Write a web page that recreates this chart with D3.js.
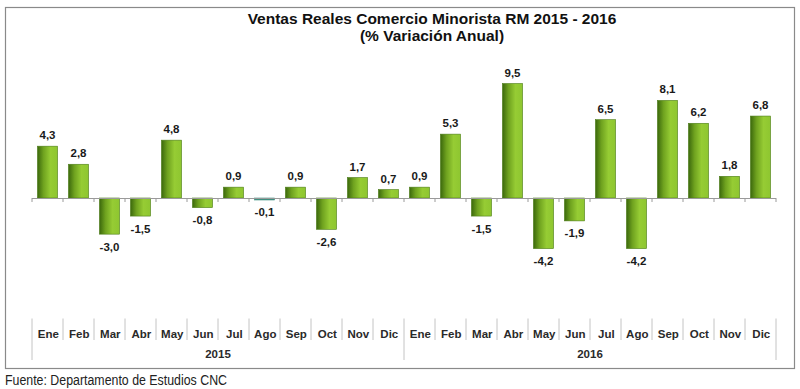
<!DOCTYPE html>
<html>
<head>
<meta charset="utf-8">
<script src="https://cdn.jsdelivr.net/npm/d3@7"></script>
<style>
	body { margin: 0; background: #fff; }
	svg { display: block; font-family: 'Liberation Sans', Arial, sans-serif; }
</style>
</head>
<body>
<div id="chart"></div>
<script>
// data
const months = [ 'Ene', 'Feb', 'Mar', 'Abr', 'May', 'Jun', 'Jul', 'Ago', 'Sep', 'Oct', 'Nov', 'Dic' ];
const years = [ '2015', '2016' ];
const values2015 = [ 4.3, 2.8, -3.0, -1.5, 4.8, -0.8, 0.9, -0.1, 0.9, -2.6, 1.7, 0.7 ];
const values2016 = [ 0.9, 5.3, -1.5, 9.5, -4.2, -1.9, 6.5, -4.2, 8.1, 6.2, 1.8, 6.8 ];

const data = [];
years.forEach(function(yr, j) {
	const vals = j === 0 ? values2015 : values2016;
	months.forEach(function(m, i) {
		data.push({ key: yr + '-' + m, month: m, year: yr, value: vals[i] });
	});
});

const width = 800,
	height = 389;

const svg = d3.select('#chart').append('svg').attr('width', width).attr('height', height);

// frame
svg
	.append('rect')
	.attr('x', 5.5)
	.attr('y', 7.5)
	.attr('width', 789)
	.attr('height', 361)
	.attr('fill', '#fff')
	.attr('stroke', '#8a8a8a')
	.attr('stroke-width', 1.2);

const x = d3.scaleBand().domain(data.map((d) => d.key)).range([ 32, 776 ]).paddingInner(0.35).paddingOuter(0.175);
const y = d3.scaleLinear().domain([ -10, 10 ]).range([ 318.5, 77.5 ]);

const step = x.step();
const x0 = 32;

// gradient for bars
const grad = svg
	.append('defs')
	.append('linearGradient')
	.attr('id', 'barGrad')
	.attr('x1', '0%')
	.attr('x2', '100%')
	.attr('y1', '0%')
	.attr('y2', '0%');
grad.append('stop').attr('offset', '0%').attr('stop-color', '#3b680c');
grad.append('stop').attr('offset', '30%').attr('stop-color', '#6fa21f');
grad.append('stop').attr('offset', '65%').attr('stop-color', '#96cc34');
grad.append('stop').attr('offset', '100%').attr('stop-color', '#8ec630');

// bars
svg
	.selectAll('rect.bar')
	.data(data)
	.enter()
	.append('rect')
	.attr('class', 'bar')
	.attr('x', (d) => x(d.key))
	.attr('width', x.bandwidth())
	.attr('y', (d) => Math.min(y(d.value), y(0)))
	.attr('height', (d) => Math.max(Math.abs(y(d.value) - y(0)), 2))
	.attr('fill', (d) => (Math.abs(d.value) < 0.2 ? '#3f8f80' : 'url(#barGrad)'))
	.attr('stroke', (d) => (Math.abs(d.value) < 0.2 ? '#3f8f80' : '#4d7d18'))
	.attr('stroke-width', 0.6);

// zero line with ticks
const zero = y(0);
svg
	.append('line')
	.attr('x1', x0)
	.attr('x2', x0 + step * data.length)
	.attr('y1', zero + 0.5)
	.attr('y2', zero + 0.5)
	.attr('stroke', '#9a9a9a')
	.attr('stroke-width', 1);

svg
	.selectAll('line.ztick')
	.data(d3.range(data.length + 1))
	.enter()
	.append('line')
	.attr('class', 'ztick')
	.attr('x1', (i) => x0 + i * step)
	.attr('x2', (i) => x0 + i * step)
	.attr('y1', zero)
	.attr('y2', zero + 4)
	.attr('stroke', '#9a9a9a');

// value labels
const fmt = (v) => d3.format('.1f')(v).replace('.', ',').replace('−', '-');
svg
	.selectAll('text.val')
	.data(data)
	.enter()
	.append('text')
	.attr('class', 'val')
	.attr('x', (d) => x(d.key) + x.bandwidth() / 2)
	.attr('y', (d) => (d.value >= 0 ? y(d.value) - 7 : Math.max(y(d.value), zero + 1.5) + 16.5))
	.attr('text-anchor', 'middle')
	.attr('font-size', '11.5px')
	.attr('font-weight', 'bold')
	.attr('fill', '#1a1a1a')
	.text((d) => fmt(d.value));

// category axis at bottom
const axisTop = 318.5;
svg
	.selectAll('line.msep')
	.data(d3.range(data.length + 1))
	.enter()
	.append('line')
	.attr('class', 'msep')
	.attr('x1', (i) => x0 + i * step)
	.attr('x2', (i) => x0 + i * step)
	.attr('y1', axisTop)
	.attr('y2', (i) => (i % 12 === 0 ? 360 : 340))
	.attr('stroke', '#c4c4c4')
	.attr('stroke-width', 1);

svg
	.selectAll('text.month')
	.data(data)
	.enter()
	.append('text')
	.attr('class', 'month')
	.attr('x', (d) => x(d.key) + x.bandwidth() / 2 + 0.8)
	.attr('y', 337.5)
	.attr('text-anchor', 'middle')
	.attr('font-size', '11.5px')
	.attr('font-weight', 'bold')
	.attr('fill', '#2a2a2a')
	.text((d) => d.month);

svg
	.selectAll('text.year')
	.data(years)
	.enter()
	.append('text')
	.attr('class', 'year')
	.attr('x', (d, j) => x0 + step * 12 * (j + 0.5))
	.attr('y', 357.5)
	.attr('text-anchor', 'middle')
	.attr('font-size', '11.5px')
	.attr('font-weight', 'bold')
	.attr('fill', '#2a2a2a')
	.text((d) => d);

// title
svg
	.append('text')
	.attr('x', 432)
	.attr('y', 23.5)
	.attr('text-anchor', 'middle')
	.attr('font-size', '15.5px')
	.attr('font-weight', 'bold')
	.attr('fill', '#111')
	.text('Ventas Reales Comercio Minorista RM 2015 - 2016');

svg
	.append('text')
	.attr('x', 432)
	.attr('y', 41)
	.attr('text-anchor', 'middle')
	.attr('font-size', '15.5px')
	.attr('font-weight', 'bold')
	.attr('fill', '#111')
	.text('(% Variación Anual)');

// source
svg
	.append('text')
	.attr('x', 5)
	.attr('y', 385)
	.attr('font-size', '14px')
	.attr('textLength', 222)
	.attr('lengthAdjust', 'spacingAndGlyphs')
	.attr('fill', '#222')
	.text('Fuente: Departamento de Estudios CNC');
</script>
</body>
</html>
